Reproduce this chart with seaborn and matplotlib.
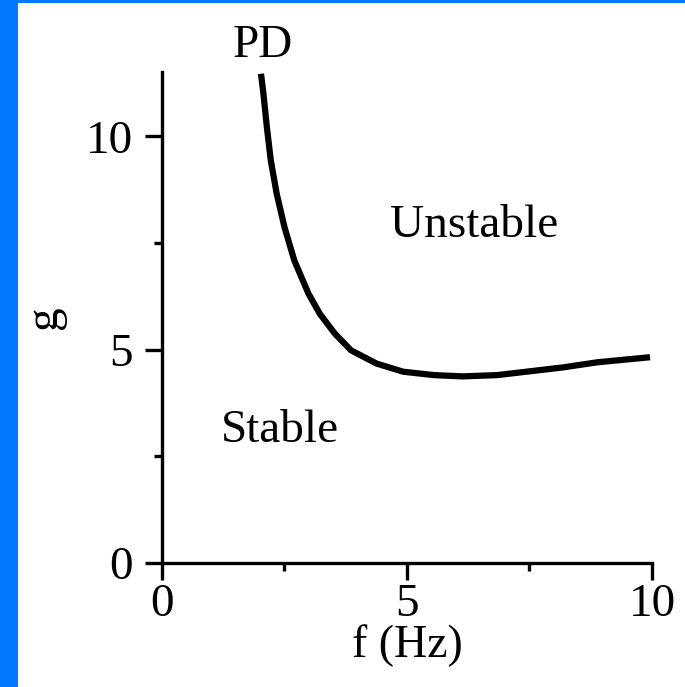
import matplotlib
matplotlib.use("Agg")
import matplotlib.pyplot as plt
import seaborn as sns
import pandas as pd
from matplotlib.patches import Rectangle
from matplotlib.ticker import MultipleLocator

# Period-doubling boundary: critical gain g versus frequency f
freq_hz = [2.02, 2.07, 2.14, 2.22, 2.34, 2.50, 2.70, 2.99, 3.22, 3.53,
           3.86, 4.38, 4.92, 5.55, 6.14, 6.84, 7.51, 8.18, 8.88, 9.96]
gain = [11.47, 11.00, 10.22, 9.44, 8.66, 7.87, 7.09, 6.31, 5.84, 5.37,
        4.98, 4.67, 4.48, 4.40, 4.37, 4.40, 4.49, 4.58, 4.70, 4.82]

x_ticks = [0, 5, 10]
y_ticks = [0, 5, 10]
region_labels = ["PD", "Unstable", "Stable"]

sns.set_style("ticks")
plt.rcParams["font.family"] = ["Liberation Serif", "DejaVu Serif"]
plt.rcParams["text.color"] = "black"
plt.rcParams["axes.labelcolor"] = "black"
plt.rcParams["xtick.color"] = "black"
plt.rcParams["ytick.color"] = "black"

fig = plt.figure(figsize=(6.85, 6.87), dpi=100)
ax = fig.add_axes([0.2365, 0.181, 0.7153, 0.7135])

df = pd.DataFrame({"f": freq_hz, "g": gain})
sns.lineplot(data=df, x="f", y="g", ax=ax, color="black", linewidth=4.5,
             sort=False, solid_capstyle="butt", solid_joinstyle="round")

ax.set_xlim(0, 10)
ax.set_ylim(0, 11.5)
ax.set_xticks(x_ticks)
ax.set_yticks(y_ticks)
ax.set_xticklabels([str(v) for v in x_ticks])
ax.set_yticklabels([str(v) for v in y_ticks])
ax.xaxis.set_minor_locator(MultipleLocator(2.5))
ax.yaxis.set_minor_locator(MultipleLocator(2.5))

sns.despine(ax=ax)
for side in ("left", "bottom"):
    ax.spines[side].set_linewidth(2.4)
    ax.spines[side].set_color("black")

ax.tick_params(which="major", direction="out", length=12, width=2.4,
               labelsize=34, colors="black")
ax.tick_params(axis="x", which="major", pad=3)
ax.tick_params(axis="y", which="major", pad=9)
ax.tick_params(which="minor", direction="out", length=6, width=2.4,
               colors="black")

ax.set_xlabel("f (Hz)", fontsize=33, labelpad=-1)
ax.set_ylabel("g", fontsize=34, labelpad=14)

ax.text(2.06, 11.86, region_labels[0], fontsize=34, ha="center",
        va="baseline", clip_on=False)
ax.text(6.37, 7.64, region_labels[1], fontsize=34, ha="center",
        va="baseline")
ax.text(2.40, 2.83, region_labels[2], fontsize=34, ha="center",
        va="baseline")

# Blue frame strips along the left and top edges
fig.patches.append(Rectangle((0, 0), 18 / 685, 1, transform=fig.transFigure,
                             facecolor="#0078FF", edgecolor="none", zorder=0))
fig.patches.append(Rectangle((0, 1 - 3 / 687), 1, 3 / 687,
                             transform=fig.transFigure,
                             facecolor="#0078FF", edgecolor="none", zorder=0))

fig.savefig("out.png", dpi=100, facecolor="white")
